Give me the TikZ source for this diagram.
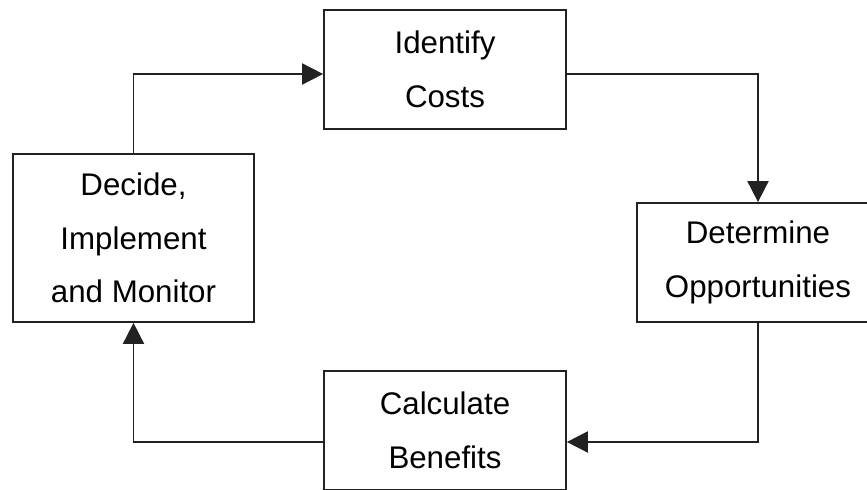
\documentclass[tikz,border=0pt]{standalone}
\usepackage{fontspec}
\setmainfont{Liberation Sans}
\usetikzlibrary{arrows.meta,positioning}
\definecolor{boxline}{HTML}{222222}

\begin{document}
\begin{tikzpicture}[
  x=0.02cm, y=-0.02cm,
  stage/.style={rectangle,draw=boxline,line width=1pt,fill=white,align=center,
    minimum width=4.84cm,minimum height=2.38cm,inner sep=0pt,
    font=\fontsize{17.8}{30.5}\selectfont},
  flow/.style={draw=boxline,line width=1pt,-{Triangle[length=12pt,width=12pt]}}
]
\clip (0,0) rectangle (867,490);
\node[stage] (ide) at (445,69.5) {Identify\\Costs};
\node[stage] (det) at (758,262.5) {Determine\\Opportunities};
\node[stage] (cal) at (445,430.5) {Calculate\\Benefits};
\node[stage,minimum width=4.82cm,minimum height=3.36cm] (dec) at (133.5,238) {Decide,\\Implement\\and Monitor};
\draw[flow] (dec.north) |- ([yshift=-0.09cm]ide.west);
\draw[flow] ([yshift=-0.09cm]ide.east) -| (det.north);
\draw[flow] (det.south) |- ([yshift=-0.23cm]cal.east);
\draw[flow] ([yshift=-0.23cm]cal.west) -| (dec.south);
\end{tikzpicture}
\end{document}
